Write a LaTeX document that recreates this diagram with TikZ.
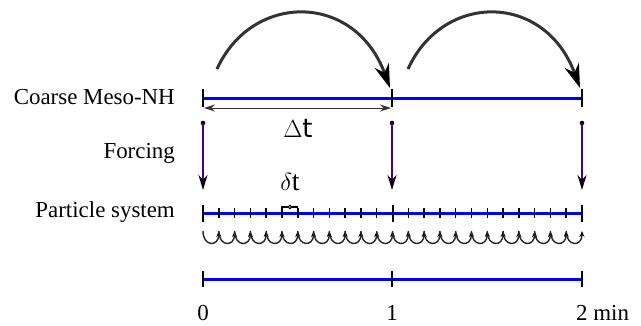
\documentclass[tikz,border=0pt]{standalone}
\usepackage{fontspec}
\setmainfont{Liberation Serif}
\newfontfamily\dtfont{DejaVu Sans}
\usetikzlibrary{arrows.meta,calc}
\tikzset{
  lbl/.style={anchor=east, font=\fontsize{23}{25}\selectfont, inner sep=0pt},
  num/.style={font=\fontsize{23}{25}\selectfont, inner sep=0pt},
  axisline/.style={draw=blue, line width=3bp},
  bigtick/.style={draw=black, line width=2bp},
  smalltick/.style={draw=black, line width=1.5bp},
  jump/.style={draw=black!80, line width=3bp, -{Stealth[length=24bp,width=15bp,color=black]}},
  force/.style={draw={rgb,255:red,75;green,0;blue,130}, line width=2bp, -{Stealth[length=15bp,width=9bp,color=black]}},
  sub/.style={draw=black!85, line width=1.4bp, -{Stealth[length=6bp,width=5bp,color=black]}},
  dim/.style={draw=black!80, line width=1bp, {Stealth[length=11bp,width=7bp]}-{Stealth[length=11bp,width=7bp]}},
}
\begin{document}
\begin{tikzpicture}[x=1bp,y=-1bp]
\useasboundingbox (0,0) rectangle (641,325);
% labels
\node[lbl] (lc) at (175,97) {Coarse Meso-NH};
\node[lbl] (lf) at (175,153) {Forcing};
\node[lbl] (lp) at (175,212) {Particle system};
% coarse line
\coordinate (c0) at (203,98);
\coordinate (c1) at (392,98);
\coordinate (c2) at (582,98);
\draw[axisline] (c0) -- (c2);
\foreach \i in {0,1,2} {\draw[bigtick] ([yshift=-9bp]c\i) -- ([yshift=9bp]c\i);}
% top jumps
\coordinate (j0) at (217,69);
\coordinate (j1) at (408,69);
\coordinate (t1) at (390,88);
\coordinate (t2) at (580,88);
\draw[jump] (j0) .. controls (252,-8) and (355,-8) .. (t1);
\draw[jump] (j1) .. controls (443,-8) and (545,-8) .. (t2);
% Delta t
\coordinate (d0) at (204,108);
\coordinate (d1) at (391,108);
\draw[dim] (d0) -- (d1);
\node[font=\dtfont\fontsize{26}{28}\selectfont, inner sep=0pt] (dt) at (298,128) {$\Delta$t};
% forcing
\foreach \i/\x in {0/203,1/392,2/582} {
  \coordinate (f\i) at (\x,123);
  \coordinate (g\i) at (\x,190);
  \fill (f\i) circle (2.3bp);
  \draw[force] (f\i) -- (g\i);
}
% particle line
\coordinate (p0) at (203,213);
\coordinate (p2) at (582,213);
\draw[axisline] (p0) -- (p2);
\foreach \k in {0,...,24} {
  \pgfmathsetmacro{\xx}{203+\k*379/24}
  \coordinate (q\k) at (\xx,213);
  \coordinate (r\k) at (\xx,231);
}
\foreach \k in {1,...,11,13,14,...,23} {\draw[smalltick] ([yshift=-5bp]q\k) -- ([yshift=5bp]q\k);}
\foreach \k in {0,12,24} {\draw[bigtick] ([yshift=8bp]q\k) -- ([yshift=-9bp]q\k);}
% sub-steps
\foreach \k [evaluate=\k as \n using int(\k+1)] in {0,...,23} {
  \draw[sub] (r\k) .. controls ([yshift=-16bp]r\k) and ([yshift=-16bp]r\n) .. (r\n);
}
% delta t bracket
\draw[black, line width=1.3bp] ([yshift=1bp]q5) -- ([yshift=6bp]q5) -- ([yshift=6bp]q6) -- ([yshift=1bp]q6);
\draw[black, line width=1bp, fill=white] ($ (q5)!0.5!(q6) + (0,-6) $) circle (1.8bp);
\node[font=\fontsize{28}{30}\selectfont, inner sep=0pt] (delt) at (290,182) {$\delta$t};
% bottom line
\coordinate (b0) at (203,279);
\coordinate (b1) at (392,279);
\coordinate (b2) at (582,279);
\draw[axisline] (b0) -- (b2);
\foreach \i in {0,1,2} {\draw[bigtick] ([yshift=-8bp]b\i) -- ([yshift=8bp]b\i);}
\node[num] (n0) at (203,313) {0};
\node[num] (n1) at (392,313) {1};
\node[num, anchor=west] (n2) at (576,313) {2 min};
\end{tikzpicture}
\end{document}
